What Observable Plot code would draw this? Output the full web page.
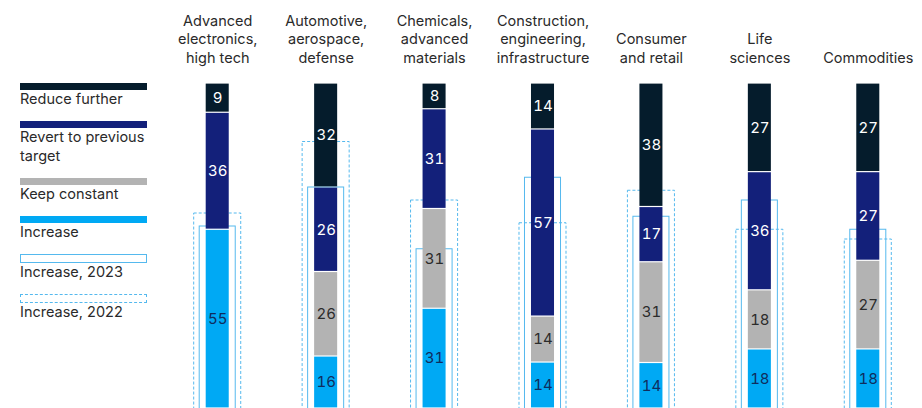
<!DOCTYPE html>
<html><head><meta charset="utf-8">
<script src="https://cdn.jsdelivr.net/npm/d3@7"></script>
<script src="https://cdn.jsdelivr.net/npm/@observablehq/plot@0.6"></script>
<style>
html,body{margin:0;padding:0;background:#fff;overflow:hidden;}
#wrap{position:relative;width:922px;height:408px;overflow:hidden;font-family:Inter,"Liberation Sans",Arial,sans-serif;color:#2a2a2a;}
#chart{position:absolute;left:0;top:0;}
#legend{position:absolute;left:20px;top:83px;width:127px;}
.item{margin-bottom:12.5px;}
.sw{width:127px;height:7px;box-sizing:border-box;}
.tx{font-size:14.5px;line-height:18.5px;color:#2a2a2a;white-space:nowrap;}
</style></head><body><div id="wrap"><div id="chart"></div><div id="legend"></div></div>
<script>
const categories = ["Advanced electronics, high tech","Automotive, aerospace, defense","Chemicals, advanced materials","Construction, engineering, infrastructure","Consumer and retail","Life sciences","Commodities"];
const categoryLabels = ["Advanced\nelectronics,\nhigh tech","Automotive,\naerospace,\ndefense","Chemicals,\nadvanced\nmaterials","Construction,\nengineering,\ninfrastructure","Consumer\nand retail","Life\nsciences","Commodities"];
const series = ["Reduce further","Revert to previous target","Keep constant","Increase"];
const legendLabels = ["Reduce further","Revert to previous\ntarget","Keep constant","Increase"];
const seriesColors = ["#051c2c","#13207a","#b3b3b3","#00a9f4"];
const labelColors = ["#ffffff","#ffffff","#2b2b2b","#0f2d5e"];
const reduceFurther = [9,32,8,14,38,27,27];
const revertToPrevious = [36,26,31,57,17,36,27];
const keepConstant = [0,26,31,14,31,18,27];
const increase = [55,16,31,14,14,18,18];
const increase2023 = [56,68,49,71,59,64,55];
const increase2022 = [60,82,64,57,67,55,52];
const outlineLabels = ["Increase, 2023","Increase, 2022"];
const outlineColor = "#55b9ee";

const seriesValues = [reduceFurther, revertToPrevious, keepConstant, increase];
const data = [];
series.forEach((s, si) => {
  categories.forEach((c, ci) => {
    const v = seriesValues[si][ci];
    if (v > 0) data.push({category: c, series: s, value: v, color: seriesColors[si], textColor: labelColors[si]});
  });
});
const outlines = categories.map((c, i) => ({category: c, v2023: increase2023[i], v2022: increase2022[i]}));
const stackOrder = series.slice().reverse();

const chart = Plot.plot({
  width: 922, height: 408,
  marginTop: 83, marginBottom: 0, marginLeft: 163, marginRight: 0,
  x: {domain: categories, padding: 0, round: false, axis: null},
  y: {domain: [0, 1], axis: null},
  color: {type: "identity"},
  style: {fontFamily: "Inter, 'Liberation Sans', Arial, sans-serif", fontSize: "15px", background: "transparent"},
  marks: [
    Plot.barY(outlines, {x: "category", y1: -0.05, y2: d => d.v2022 / 100, fill: "none", stroke: outlineColor, strokeWidth: 1, strokeDasharray: "3,2", insetLeft: 30.7, insetRight: 30.7}),
    Plot.barY(outlines, {x: "category", y1: -0.05, y2: d => d.v2023 / 100, fill: "none", stroke: outlineColor, strokeWidth: 1, insetLeft: 36.2, insetRight: 36.2}),
    Plot.barY(data, Plot.stackY({x: "category", y: "value", z: "series", fill: "color", order: stackOrder, offset: "normalize", insetLeft: 42.7, insetRight: 42.7, insetTop: 0.6, insetBottom: 0.6})),
    Plot.text(data, Plot.stackY({x: "category", y: "value", z: "series", order: stackOrder, offset: "normalize", text: "value", fill: "textColor", fontSize: 15})),
    Plot.text(categories, {x: d => d, text: (d, i) => categoryLabels[i], frameAnchor: "top", dy: -21, lineAnchor: "bottom", lineHeight: 1.25, fill: "#2a2a2a", fontSize: 14.5})
  ]
});
document.getElementById("chart").appendChild(chart);

const legend = document.getElementById("legend");
legendLabels.forEach((l, i) => {
  const item = document.createElement("div"); item.className = "item";
  const sw = document.createElement("div"); sw.className = "sw"; sw.style.background = seriesColors[i];
  const tx = document.createElement("div"); tx.className = "tx"; tx.innerText = l;
  item.appendChild(sw); item.appendChild(tx); legend.appendChild(item);
});
outlineLabels.forEach((l, i) => {
  const item = document.createElement("div"); item.className = "item";
  const sw = document.createElement("div"); sw.className = "sw";
  sw.style.height = "9px"; sw.style.border = `1px ${i === 0 ? "solid" : "dashed"} ${outlineColor}`;
  const tx = document.createElement("div"); tx.className = "tx"; tx.innerText = l;
  item.appendChild(sw); item.appendChild(tx); legend.appendChild(item);
});
</script></body></html>
